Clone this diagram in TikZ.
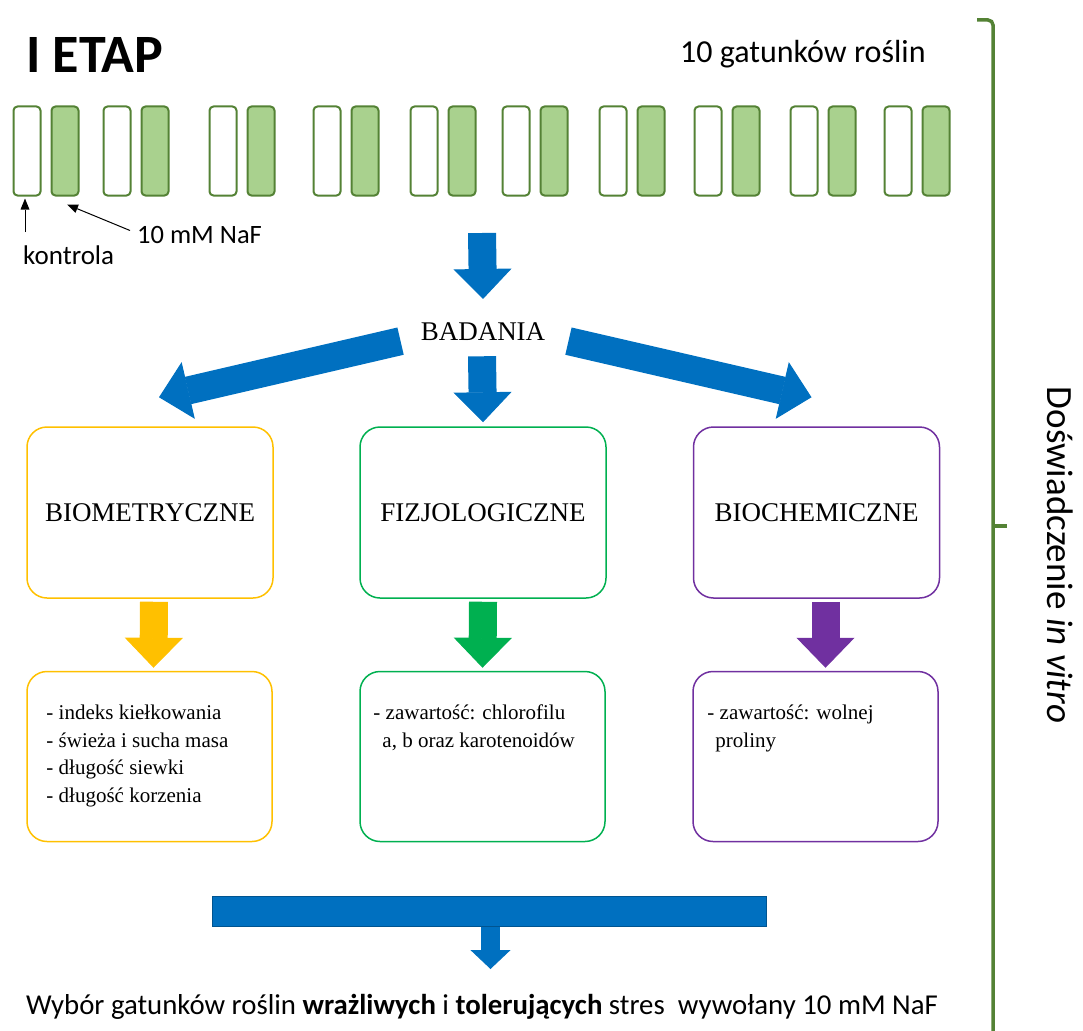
\documentclass[tikz,border=0pt]{standalone}
\usepackage{fontspec}
\setmainfont{Liberation Serif}
\setsansfont{Carlito}
\usepackage{tikz}
\usetikzlibrary{shapes, arrows, calc, positioning, backgrounds, fit}
\usetikzlibrary{arrows.meta}

\definecolor{tubegreen}{HTML}{548235}
\definecolor{tubefill}{HTML}{A9D18E}
\definecolor{arrowblue}{HTML}{0070C0}
\definecolor{boxyellow}{HTML}{FFC000}
\definecolor{boxgreen}{HTML}{00B050}
\definecolor{boxpurple}{HTML}{7030A0}

\begin{document}
\begin{tikzpicture}[
    x=1pt, y=-1pt,
    every node/.style={inner sep=0pt},
    control tube/.style={rectangle, draw=tubegreen, line width=2pt, rounded corners=4pt, fill=white, minimum width=27pt, minimum height=89pt},
    treated tube/.style={control tube, fill=tubefill},
    sans label/.style={font=\sffamily\fontsize{27}{32}\selectfont},
    title box/.style={rectangle, draw, line width=1.5pt, rounded corners=20pt, minimum width=246pt, minimum height=171pt, font=\fontsize{27}{32}\selectfont},
    list box/.style={rectangle, draw, line width=1.5pt, rounded corners=20pt, minimum width=245pt, minimum height=170pt},
    list text/.style={align=left, font=\fontsize{21}{27.7}\selectfont},
    block arrow/.style={line width=28pt, -{Triangle[length=30pt, width=58pt, line width=1pt]}},
    pointer/.style={line width=1pt, -{Triangle[length=11pt, width=9pt, line width=0pt]}},
    brace pen/.style={draw=tubegreen, line width=3.5pt}
]
\useasboundingbox (0,0) rectangle (1083,1030);
% Title and plant species
\node[anchor=base west, font=\sffamily\bfseries\fontsize{54}{64}\selectfont] (etap) at (26,73) {I ETAP};
\node[anchor=base west, font=\sffamily\fontsize{32}{38}\selectfont] (gatunki) at (680,63) {10 gatunków roślin};
% Tubes: control and NaF for each species
\foreach \x [count=\i] in {13,103,209,313,410,502,599,694,790,884} {
    \node[control tube] (k\i) at (\x+14,151) {};
    \node[treated tube] (n\i) at (\x+52,151) {};
}
\node[sans label, anchor=base west] (kontrola) at (23,264) {kontrola};
\node[sans label, font=\sffamily\fontsize{26.5}{32}\selectfont, anchor=base west] (naf) at (137,243) {10 mM NaF};
\coordinate (kontrola tail) at (25,232);
\draw[pointer] (kontrola tail) -- ([shift={(-2pt,-2pt)}]k1.south);
\draw[pointer] ([shift={(-7pt,4pt)}]naf.west) -- ([shift={(2pt,-8pt)}]n1.south);
% Studies
\node[anchor=base, font=\fontsize{27}{32}\selectfont] (badania) at (483,340) {BADANIA};
\coordinate (tubes bottom) at (482,233);
\draw[block arrow, draw=arrowblue] (tubes bottom) -- ([yshift=23pt]badania.north);
\node[title box, draw=boxyellow] (biometr) at (150,512.5) {BIOMETRYCZNE};
\node[title box, draw=boxgreen] (fizjo) at (483,512.5) {FIZJOLOGICZNE};
\node[title box, draw=boxpurple] (biochem) at (816.5,512.5) {BIOCHEMICZNE};
\draw[block arrow, draw=arrowblue] ([shift={(-20pt,-10pt)}]badania.west) -- ([shift={(9pt,29pt)}]biometr.north);
\draw[block arrow, draw=arrowblue] ([shift={(-1pt,-16pt)}]badania.south) -- ([yshift=4pt]fizjo.north);
\draw[block arrow, draw=arrowblue] ([shift={(23pt,-10pt)}]badania.east) -- ([shift={(-5pt,29pt)}]biochem.north);
% Measured traits
\node[list box, draw=boxyellow] (lista1) at (149.5,756.5) {};
\node[list box, draw=boxgreen] (lista2) at (482.5,756.5) {};
\node[list box, draw=boxpurple] (lista3) at (815.5,756.5) {};
\draw[block arrow, draw=boxyellow] ([shift={(4pt,-3pt)}]biometr.south) -- ([shift={(4pt,3pt)}]lista1.north);
\draw[block arrow, draw=boxgreen] ([yshift=-3pt]fizjo.south) -- ([yshift=3pt]lista2.north);
\draw[block arrow, draw=boxpurple] ([shift={(9pt,-3pt)}]biochem.south) -- ([shift={(10pt,3pt)}]lista3.north);
\node[list text, anchor=north west] (cechy1) at ([shift={(20pt,-34pt)}]lista1.north west) {- indeks kiełkowania\\- świeża i sucha masa\\- długość siewki\\- długość korzenia};
\node[list text, anchor=north west] (cechy2) at ([shift={(14pt,-34pt)}]lista2.north west) {- zawartość: chlorofilu\\\hspace*{9pt}a, b oraz karotenoidów};
\node[list text, anchor=north west] (cechy3) at ([shift={(15pt,-34pt)}]lista3.north west) {- zawartość: wolnej\\\hspace*{8pt}proliny};
% Selection
\node[draw=arrowblue!75!black, fill=arrowblue, line width=1pt, minimum width=554pt, minimum height=30pt] (pasek) at (489.5,911.5) {};
\node[anchor=base, font=\sffamily\fontsize{28.8}{34}\selectfont] (wybor) at (482,1014) {Wybór gatunków roślin \textbf{wrażliwych} i \textbf{tolerujących} stres\ \ wywołany 10 mM NaF};
\coordinate (wybor top) at (490.5,969);
\draw[line width=19pt, draw=arrowblue, -{Triangle[length=19pt, width=40pt, line width=1pt]}] ([xshift=1pt]pasek.south) -- (wybor top);
% In vitro bracket
\draw[brace pen, rounded corners=5pt] (977,20) -- (993,20) -- (993,1040);
\draw[brace pen] (993,526) -- (1007,526);
\node[rotate=-90, font=\sffamily\fontsize{37}{44}\selectfont] (doswiadczenie) at (1060,555) {Doświadczenie \textit{in vitro}};
\end{tikzpicture}
\end{document}
